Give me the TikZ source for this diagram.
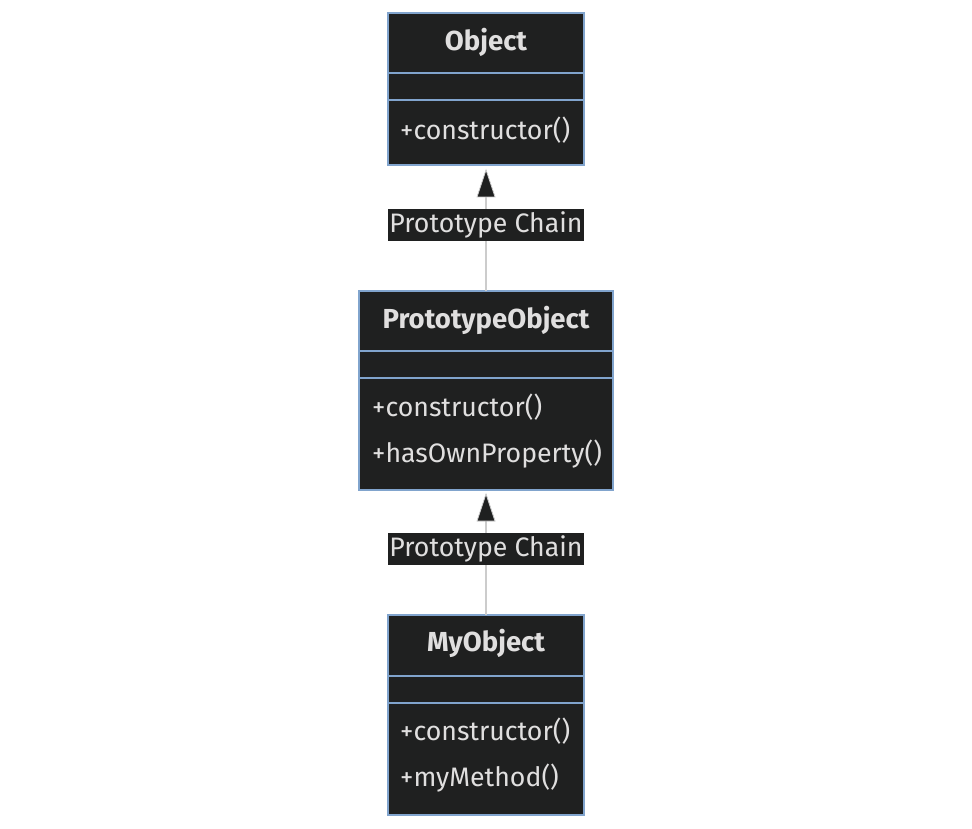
\documentclass[tikz,border=0pt]{standalone}
\usepackage{fontspec}
\setmainfont{Fira Sans}
\definecolor{boxfill}{HTML}{1F2020}
\definecolor{boxline}{HTML}{81A4CD}
\definecolor{txt}{HTML}{E0DFDF}
\definecolor{edge}{HTML}{CCCCCC}
\begin{document}
\begin{tikzpicture}[x=1pt,y=-1pt,
  classbox/.style={draw=boxline,fill=boxfill,line width=1.2pt},
  divider/.style={draw=boxline,line width=1.2pt},
  title/.style={text=txt,font=\fontsize{27.5}{32}\selectfont\bfseries,inner sep=0pt,anchor=center},
  member/.style={text=txt,font=\fontsize{26.7}{31}\selectfont,inner sep=0pt,anchor=west},
  elabel/.style={fill=boxfill,text=txt,font=\fontsize{26.7}{31}\selectfont,inner xsep=1pt,inner ysep=3pt,anchor=center},
  link/.style={draw=edge,line width=1.3pt},
  tri/.style={draw=edge,fill=boxfill,line width=0.8pt}
]
\useasboundingbox (0,0) rectangle (972,829);
% Object
\draw[classbox] (388,13) rectangle (584,165);
\draw[divider] (388,73) -- (584,73);
\draw[divider] (388,100) -- (584,100);
\node[title] (objT) at (486,42) {Object};
\node[member] (objM1) at (400,130) {+constructor()};
\coordinate (objB) at (486,166);
% PrototypeObject
\draw[classbox] (359,291) rectangle (613,490);
\draw[divider] (359,351) -- (613,351);
\draw[divider] (359,378) -- (613,378);
\node[title] (proT) at (486,320) {PrototypeObject};
\node[member] (proM1) at (372,407) {+constructor()};
\node[member] (proM2) at (372,454) {+hasOwnProperty()};
\coordinate (proTop) at (486,291);
\coordinate (proB) at (486,491);
% MyObject
\draw[classbox] (388,615) rectangle (584,815);
\draw[divider] (388,676) -- (584,676);
\draw[divider] (388,703) -- (584,703);
\node[title] (myT) at (486,643) {MyObject};
\node[member] (myM1) at (400,731) {+constructor()};
\node[member] (myM2) at (400,778) {+myMethod()};
\coordinate (myTop) at (486,615);
% edge 1
\coordinate (a1base) at (486,197);
\draw[link] (proTop) -- (a1base);
\draw[tri] (objB) ++(0,4) -- ++(-9,27) -- ++(18,0) -- cycle;
\node[elabel] (lab1) at (486,225) {Prototype Chain};
% edge 2
\coordinate (a2base) at (486,521);
\draw[link] (myTop) -- (a2base);
\draw[tri] (proB) ++(0,3) -- ++(-9,27) -- ++(18,0) -- cycle;
\node[elabel] (lab2) at (486,549) {Prototype Chain};
\end{tikzpicture}
\end{document}
